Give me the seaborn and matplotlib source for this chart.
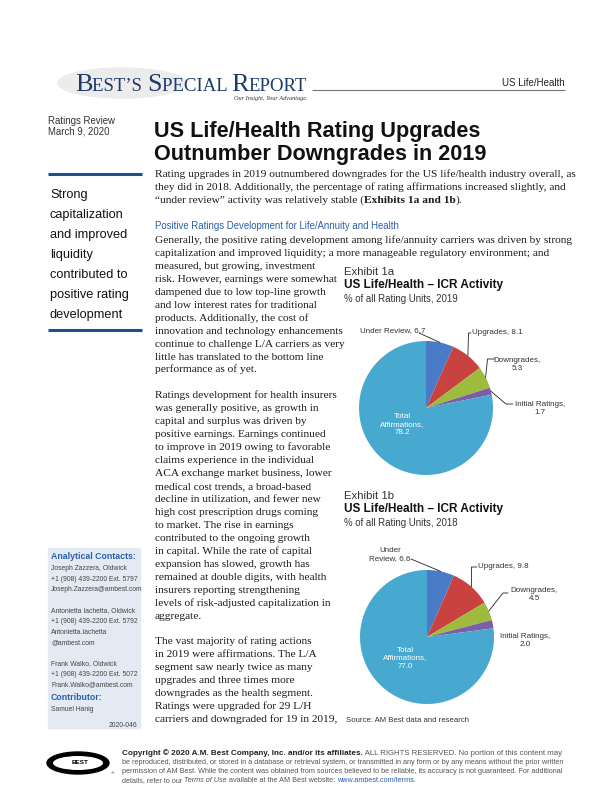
import math
import matplotlib
matplotlib.use("Agg")
import matplotlib.pyplot as plt
from matplotlib.patches import Ellipse, Rectangle
import seaborn as sns

# ---- chart data ----
slice_labels = ["Under Review", "Upgrades", "Downgrades", "Initial Ratings", "Total Affirmations"]
share_2019 = [6.7, 8.1, 5.3, 1.7, 78.2]
share_2018 = [6.6, 9.8, 4.5, 2.0, 77.0]
slice_colors = ["#4a7bc6", "#c9423f", "#9dbb3d", "#7c5ea8", "#47a9cf"]

# ---- page text ----
pull_quote = ["Strong", "capitalization", "and improved", "liquidity",
              "contributed to", "positive rating", "development"]

intro_lines = [
    "Rating upgrades in 2019 outnumbered downgrades for the US life/health industry overall, as",
    "they did in 2018. Additionally, the percentage of rating affirmations increased slightly, and",
]

body_lines = [
    "Generally, the positive rating development among life/annuity carriers was driven by strong",
    "capitalization and improved liquidity; a more manageable regulatory environment; and",
    "measured, but growing, investment",
    "risk. However, earnings were somewhat",
    "dampened due to low top-line growth",
    "and low interest rates for traditional",
    "products. Additionally, the cost of",
    "innovation and technology enhancements",
    "continue to challenge L/A carriers as very",
    "little has translated to the bottom line",
    "performance as of yet.",
    "",
    "Ratings development for health insurers",
    "was generally positive, as growth in",
    "capital and surplus was driven by",
    "positive earnings. Earnings continued",
    "to improve in 2019 owing to favorable",
    "claims experience in the individual",
    "ACA exchange market business, lower",
    "medical cost trends, a broad-based",
    "decline in utilization, and fewer new",
    "high cost prescription drugs coming",
    "to market. The rise in earnings",
    "contributed to the ongoing growth",
    "in capital. While the rate of capital",
    "expansion has slowed, growth has",
    "remained at double digits, with health",
    "insurers reporting strengthening",
    "levels of risk-adjusted capitalization in",
    "aggregate.",
    "",
    "The vast majority of rating actions",
    "in 2019 were affirmations. The L/A",
    "segment saw nearly twice as many",
    "upgrades and three times more",
    "downgrades as the health segment.",
    "Ratings were upgraded for 29 L/H",
    "carriers and downgraded for 19 in 2019,",
]

contact_lines = [
    "Joseph Zazzera, Oldwick", "+1 (908) 439-2200 Ext. 5797", "Joseph.Zazzera@ambest.com", "",
    "Antonietta Iachetta, Oldwick", "+1 (908) 439-2200 Ext. 5792", "Antonietta.Iachetta", "@ambest.com", "",
    "Frank Walko, Oldwick", "+1 (908) 439-2200 Ext. 5072", "Frank.Walko@ambest.com",
]

W, H = 612, 792
SERIF = ["Liberation Serif", "DejaVu Serif"]
SANS = ["Liberation Sans", "DejaVu Sans"]
NAVY = "#1c3a6e"
BLUE = "#2a5fae"

sns.set_theme(style="white")
plt.rcParams["font.family"] = SANS

fig = plt.figure(figsize=(6.12, 7.92), dpi=100)
ax = fig.add_axes([0, 0, 1, 1])
renderer = fig.canvas.get_renderer()


def Y(y):
    return H - y


def txt(x, y, s, **kw):
    kw.setdefault("va", "baseline")
    return ax.text(x, Y(y), s, **kw)


def width(s, **kw):
    t = ax.text(0, 0, s + "|", **kw)
    w1 = t.get_window_extent(renderer).width
    t.remove()
    t = ax.text(0, 0, "|", **kw)
    w2 = t.get_window_extent(renderer).width
    t.remove()
    return w1 - w2


def run(x, y, parts, **base):
    # one line made of differently styled pieces
    for s, extra in parts:
        kw = {**base, **extra}
        ax.text(x, Y(y), s, va="baseline", ha="left", **kw)
        x += width(s, **kw)


def hline(x0, x1, y, **kw):
    ax.plot([x0, x1], [Y(y), Y(y)], solid_capstyle="butt", **kw)


# ---- header ----
ax.add_patch(Ellipse((122, Y(83)), 128, 30, color="#ececec", zorder=0))
big = dict(family=SERIF, fontsize=18.8, color=NAVY)
small = dict(family=SERIF, fontsize=13.5, color=NAVY)
run(75, 91, [("B", big), ("EST’S ", small), ("S", big), ("PECIAL ", small),
             ("R", big), ("EPORT", small)])
txt(308, 100, "Our Insight, Your Advantage.", family=SERIF, style="italic",
    fontsize=4.5, color="#333", ha="right")
hline(312, 565, 90, color="#777", lw=0.8)
txt(565, 86, "US Life/Health", fontsize=7, color="#222", ha="right")

txt(48, 124, "Ratings Review", fontsize=6.9, color="#333")
txt(48, 135, "March 9, 2020", fontsize=6.9, color="#333")
txt(154, 137, "US Life/Health Rating Upgrades", fontsize=15.6, weight="bold", color="#111")
txt(154, 160, "Outnumber Downgrades in 2019", fontsize=15.6, weight="bold", color="#111")

# ---- sidebar ----
hline(48, 142, 174, color="#1f4f8f", lw=2.2)
hline(48, 142, 330, color="#1f4f8f", lw=2.2)
for i, s in enumerate(pull_quote):
    txt(50, 198 + 20 * i, s, fontsize=9.2, color="#111")

ax.add_patch(Rectangle((48, Y(728)), 92, 180, color="#e4eaf4", zorder=0))
txt(51, 559, "Analytical Contacts:", fontsize=6.3, weight="bold", color=BLUE)
for i, s in enumerate(contact_lines):
    txt(51, 570 + 10.6 * i, s, fontsize=4.9, color="#444")
txt(51, 700, "Contributor:", fontsize=6.3, weight="bold", color=BLUE)
txt(51, 711, "Samuel Hanig", fontsize=4.9, color="#444")
txt(137, 727, "2020-046", fontsize=4.9, color="#444", ha="right")

# ---- body text ----
body = dict(family=SERIF, fontsize=8.2, color="#1a1a1a")
for i, s in enumerate(intro_lines):
    txt(155, 177 + 13 * i, s, **body)
run(155, 203, [("“under review” activity was relatively stable (", {}),
               ("Exhibits 1a and 1b", {"weight": "bold"}), (").", {})], **body)
txt(155, 229, "Positive Ratings Development for Life/Annuity and Health",
    fontsize=6.9, color=BLUE)
for i, s in enumerate(body_lines):
    txt(155, 243 + 12.95 * i, s, **body)


# ---- exhibits ----
def exhibit(top, num, year):
    txt(344, top, f"Exhibit {num}", fontsize=8.2, color="#333")
    txt(344, top + 13, "US Life/Health – ICR Activity", fontsize=8.5, weight="bold", color="#111")
    txt(344, top + 27, f"% of all Rating Units, {year}", fontsize=6.9, color="#333")


def draw_pie(vals, cx, cy, r, specs, total_pos):
    wedges, _ = ax.pie(vals, colors=slice_colors, startangle=90, counterclock=False,
                       center=(cx, Y(cy)), radius=r, wedgeprops=dict(linewidth=0))
    lab = dict(fontsize=5.8, color="#333", ha="center", va="center", linespacing=1.2)
    for w, v, spec in zip(wedges, vals, specs):
        ang = math.radians((w.theta1 + w.theta2) / 2)
        ex, ey = cx + r * math.cos(ang), Y(cy) + r * math.sin(ang)
        (tx, ty), ha, label, pts = spec
        txt(tx, ty, label.format(v=v), **{**lab, "ha": ha})
        if pts:
            xs = [p[0] for p in pts] + [ex]
            ys = [Y(p[1]) for p in pts] + [ey]
            ax.plot(xs, ys, color="#222", lw=0.6)
    tx, ty = total_pos
    txt(tx, ty, f"Total\nAffirmations,\n{vals[4]:.1f}", **{**lab, "color": "white"})


exhibit(275, "1a", 2019)
draw_pie(share_2019, 426, 408, 67, [
    ((393, 331), "center", "Under Review, {v}", [(419, 333)]),
    ((472, 333), "left", "Upgrades, {v}", [(471, 333), (468.5, 333)]),
    ((517, 364), "center", "Downgrades,\n{v}", [(495, 359), (487.5, 359)]),
    ((540, 408), "center", "Initial Ratings,\n{v}", [(513, 404), (506, 404)]),
], (402, 425))

exhibit(499, "1b", 2018)
draw_pie(share_2018, 427, 637, 67, [
    ((390, 555), "center", "Under\nReview, {v}", [(411, 559)]),
    ((478, 567), "left", "Upgrades, {v}", [(477, 567), (471.5, 567)]),
    ((534, 595), "center", "Downgrades,\n{v}", [(508, 593), (503, 593)]),
    ((525, 640), "center", "Initial Ratings,\n{v}", None),
], (405, 658))
txt(346, 722, "Source: AM Best data and research", fontsize=5.6, color="#333")

# ---- footer ----
ax.add_patch(Ellipse((78, Y(763)), 62, 22, color="black"))
ax.add_patch(Ellipse((78, Y(763)), 50, 14, facecolor="white", edgecolor="none"))
txt(80, 763, "BEST", fontsize=4.6, weight="bold", color="black", ha="center", va="center")
txt(111, 774, "®", fontsize=3.2, color="#333")

foot = dict(fontsize=5.2, color="#555")
run(122, 755, [("Copyright © 2020 A.M. Best Company, Inc. and/or its affiliates.",
                {"weight": "bold", "color": "#222", "fontsize": 5.9}),
               (" ALL RIGHTS RESERVED. No portion of this content may", {"fontsize": 5.6})],
    **foot)
txt(122, 764, "be reproduced, distributed, or stored in a database or retrieval system, "
    "or transmitted in any form or by any means without the prior written", **foot)
txt(122, 773, "permission of AM Best. While the content was obtained from sources believed "
    "to be reliable, its accuracy is not guaranteed. For additional", **foot)
run(122, 782, [("details, refer to our ", {}), ("Terms of Use", {"style": "italic"}),
               (" available at the AM Best website: ", {}),
               ("www.ambest.com/terms.", {"color": BLUE})], **foot)

ax.set_xlim(0, W)
ax.set_ylim(0, H)
ax.set_aspect("auto")
ax.axis("off")
fig.savefig("out.png", dpi=100)
